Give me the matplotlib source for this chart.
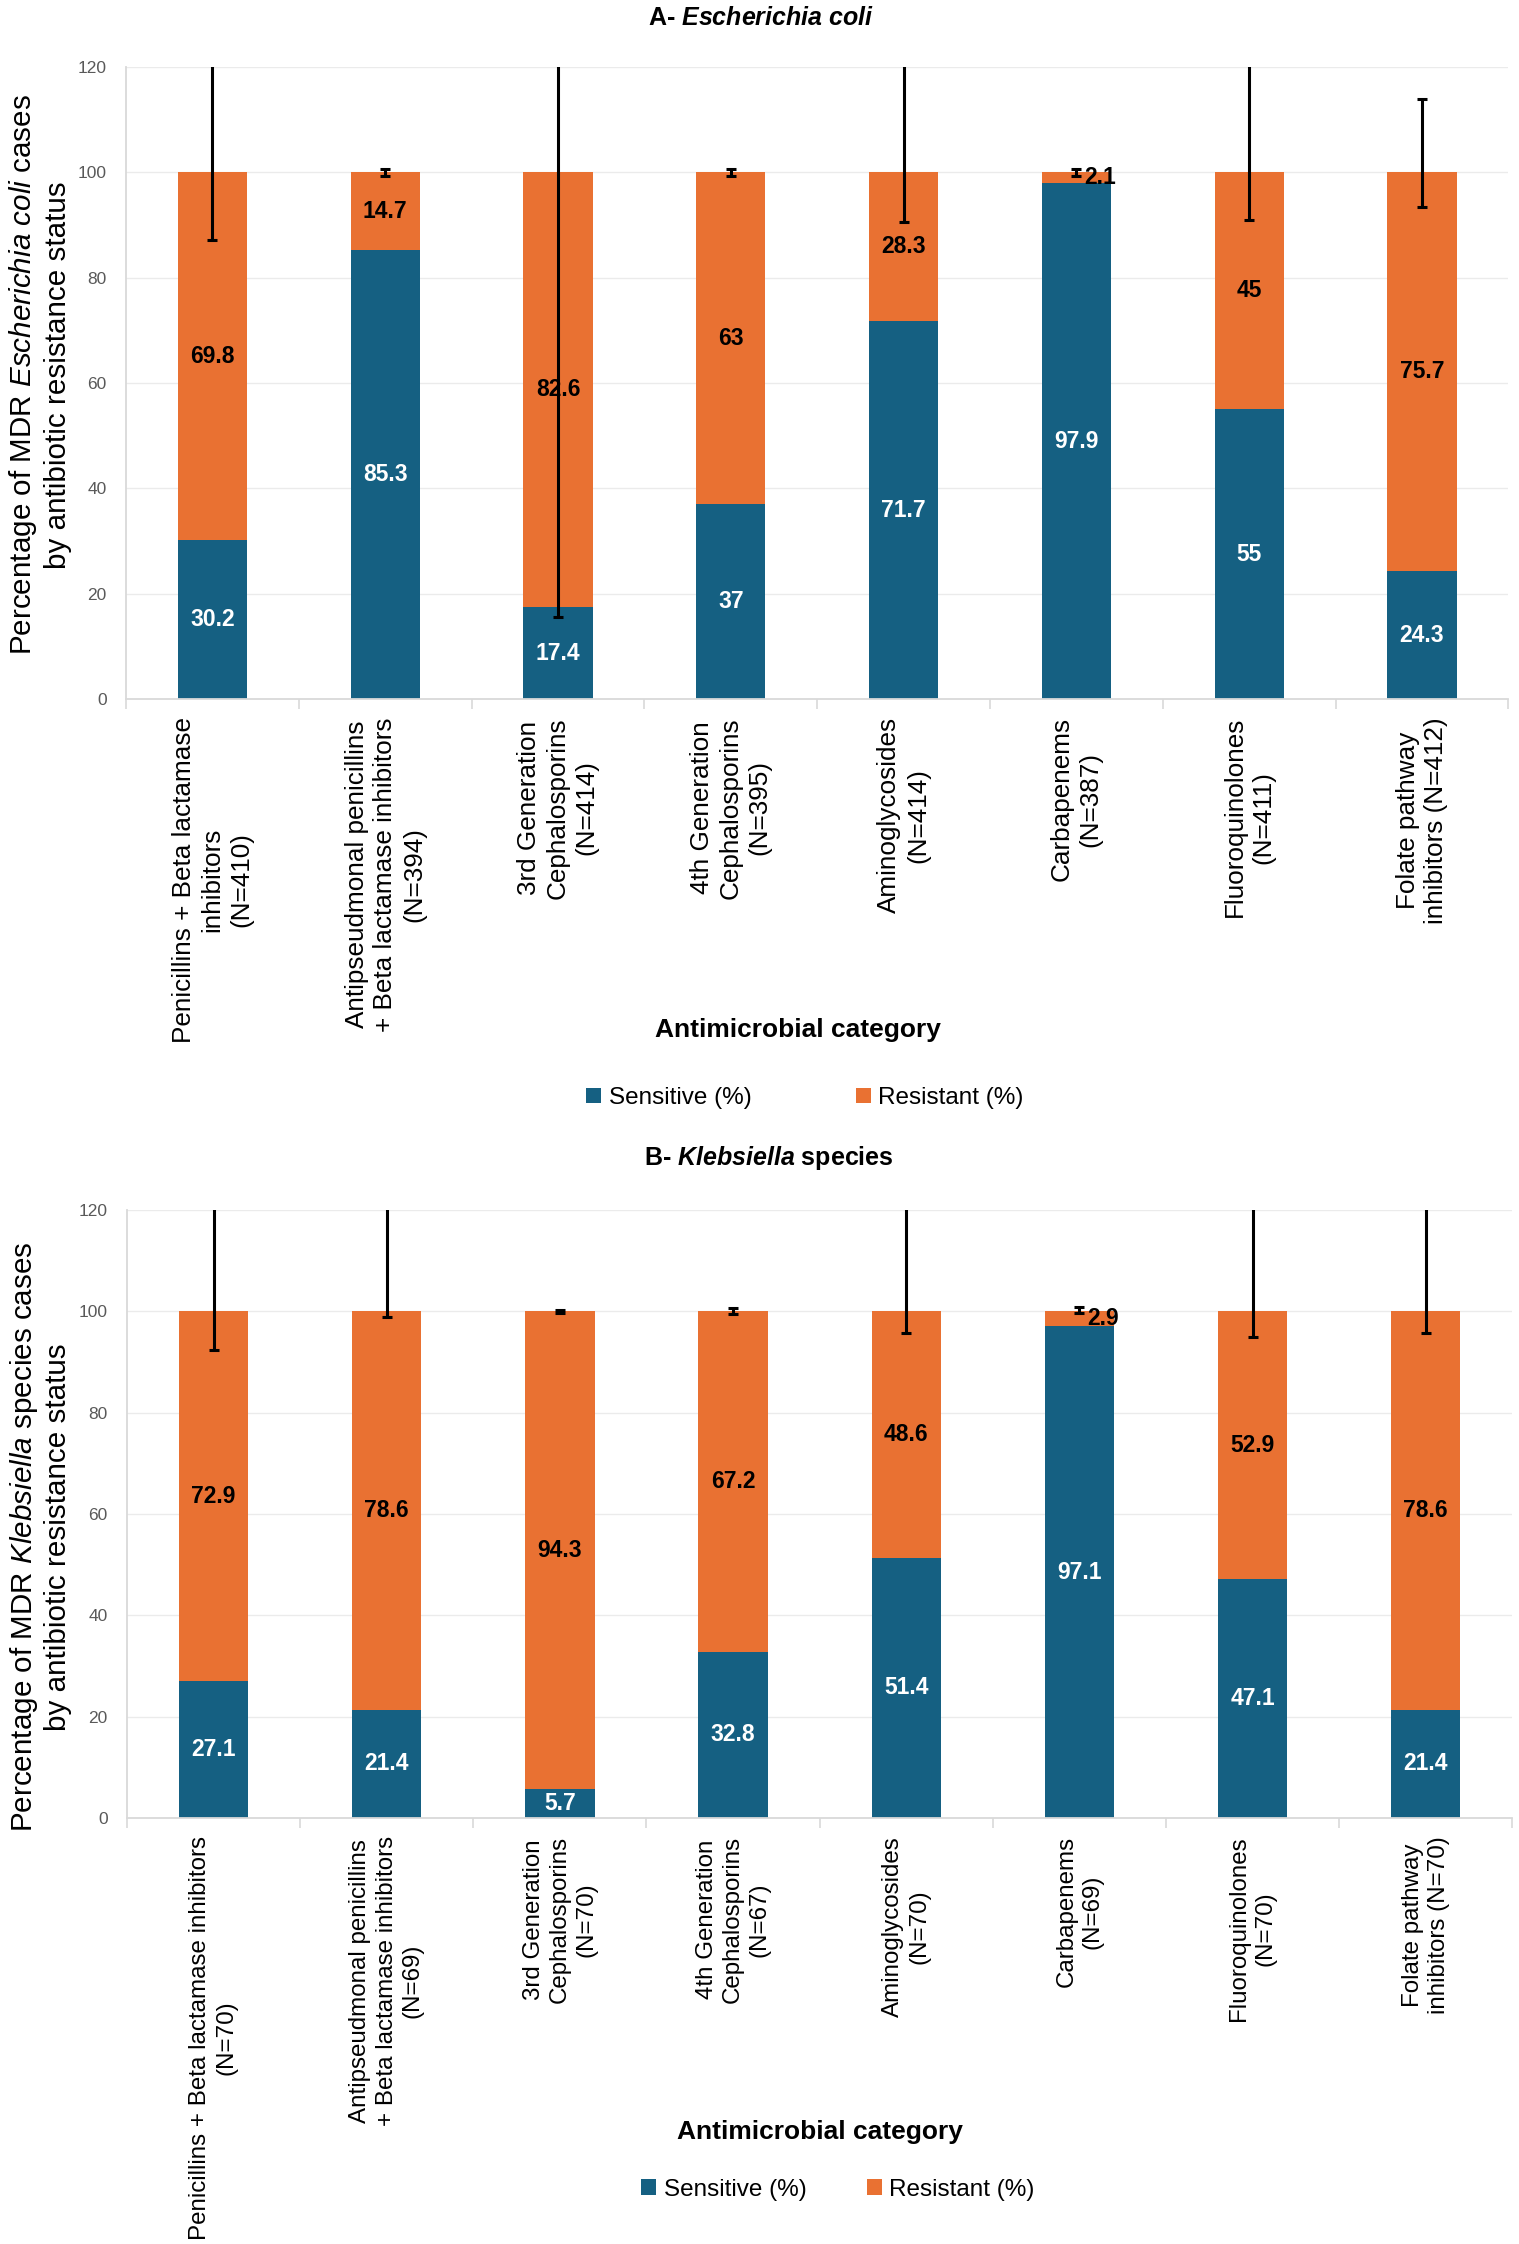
import matplotlib
matplotlib.use("Agg")
import matplotlib.pyplot as plt
import numpy as np

plt.rcParams['font.family'] = ['Liberation Sans', 'DejaVu Sans']
plt.rcParams['mathtext.fontset'] = 'custom'
plt.rcParams['mathtext.rm'] = 'Liberation Sans'
plt.rcParams['mathtext.it'] = 'Liberation Sans:italic'
plt.rcParams['mathtext.bf'] = 'Liberation Sans:bold'
plt.rcParams['mathtext.bfit'] = 'Liberation Sans:bold:italic'

BLUE = '#156082'
ORANGE = '#E97132'
GRID = '#EBEBEB'
AXIS = '#D9D9D9'

# --- data ---
labels_a = ["Penicillins + Beta lactamase\ninhibitors\n(N=410)",
            "Antipseudmonal penicillins\n+ Beta lactamase inhibitors\n(N=394)",
            "3rd Generation\nCephalosporins\n(N=414)",
            "4th Generation\nCephalosporins\n(N=395)",
            "Aminoglycosides\n(N=414)",
            "Carbapenems\n(N=387)",
            "Fluoroquinolones\n(N=411)",
            "Folate pathway\ninhibitors (N=412)"]
sens_a = [30.2, 85.3, 17.4, 37, 71.7, 97.9, 55, 24.3]
res_a = [69.8, 14.7, 82.6, 63, 28.3, 2.1, 45, 75.7]
err_lo_a = [12.8, 0.6, 84.4, 0.6, 9.4, 0.6, 9.1, 6.6]
err_hi_a = [25, 0.6, 84.4, 0.6, 25, 0.6, 25, 13.9]

labels_b = ["Penicillins + Beta lactamase inhibitors\n(N=70)",
            "Antipseudmonal penicillins\n+ Beta lactamase inhibitors\n(N=69)",
            "3rd Generation\nCephalosporins\n(N=70)",
            "4th Generation\nCephalosporins\n(N=67)",
            "Aminoglycosides\n(N=70)",
            "Carbapenems\n(N=69)",
            "Fluoroquinolones\n(N=70)",
            "Folate pathway\ninhibitors (N=70)"]
sens_b = [27.1, 21.4, 5.7, 32.8, 51.4, 97.1, 47.1, 21.4]
res_b = [72.9, 78.6, 94.3, 67.2, 48.6, 2.9, 52.9, 78.6]
err_lo_b = [7.6, 1.1, 0.3, 0.6, 4.3, 0.4, 5.1, 4.3]
err_hi_b = [25, 25, 0.3, 0.6, 25, 0.9, 25, 25]

fig = plt.figure(figsize=(15.19, 22.44), dpi=100)
ax_a = fig.add_axes([0.083, 0.6885, 0.910, 0.2816])
ax_b = fig.add_axes([0.0836, 0.1898, 0.912, 0.2710])


def draw_panel(ax, labels, sens, res, lo, hi, ylab, ylab_y, xt_size):
    x = np.arange(len(labels))
    s = np.array(sens)
    r = np.array(res)
    bs = ax.bar(x, s, 0.4, color=BLUE, zorder=2)
    br = ax.bar(x, r, 0.4, bottom=s, color=ORANGE, zorder=2)
    ax.errorbar(x, s + r, yerr=[lo, hi], fmt='none', ecolor='black',
                elinewidth=2.2, capsize=3.6, capthick=2.2, zorder=3)

    ax.bar_label(bs, labels=[f"{v:g}" for v in sens], label_type='center',
                 color='white', fontsize=16.5, fontweight='bold', zorder=4)
    anns = ax.bar_label(br, labels=[f"{v:g}" for v in res], label_type='center',
                        color='black', fontsize=16.5, fontweight='bold', zorder=4)
    # small carbapenem label sits beside the error bar
    anns[5].xyann = (17, 0)

    ax.set_xlim(-0.5, len(labels) - 0.5)
    ax.set_ylim(0, 120)
    ax.set_yticks(np.arange(0, 121, 20))
    ax.tick_params(axis='y', length=0, pad=14, labelsize=12.5, labelcolor='#595959')
    ax.set_xticks(x)
    ax.set_xticklabels(labels, rotation=90, ha='center', va='top',
                       multialignment='center', fontsize=xt_size, linespacing=1.25)
    ax.tick_params(axis='x', which='major', length=0, pad=13)
    ax.set_xticks(np.arange(-0.5, len(labels)), minor=True)
    ax.tick_params(axis='x', which='minor', length=7, width=1.2, color=AXIS)

    ax.grid(axis='y', color=GRID, linewidth=1)
    ax.set_axisbelow(True)
    for side in ['top', 'right']:
        ax.spines[side].set_visible(False)
    for side in ['left', 'bottom']:
        ax.spines[side].set_color(AXIS)
        ax.spines[side].set_linewidth(1.3)

    ax.text(-0.0626, ylab_y, ylab, transform=ax.transAxes, rotation=90,
            ha='center', va='center', multialignment='center', fontsize=21.3,
            linespacing=1.2)
    return bs, br


hs_a = draw_panel(ax_a, labels_a, sens_a, res_a, err_lo_a, err_hi_a,
                  "Percentage of MDR $\\mathit{Escherichia\\ coli}$ cases\nby antibiotic resistance status",
                  0.513, 18.8)
hs_b = draw_panel(ax_b, labels_b, sens_b, res_b, err_lo_b, err_hi_b,
                  "Percentage of MDR $\\mathit{Klebsiella}$ species cases\nby antibiotic resistance status",
                  0.462, 17.4)

fig.text(0.501, 0.992, "A- $\\mathbfit{Escherichia\\ coli}$", ha='center', va='center',
         fontsize=18, fontweight='bold')
fig.text(0.506, 0.484, "B- $\\mathbfit{Klebsiella}$ species", ha='center', va='center',
         fontsize=18, fontweight='bold')

fig.text(0.5253, 0.541, "Antimicrobial category", ha='center', va='center',
         fontsize=19, fontweight='bold')
fig.text(0.540, 0.0499, "Antimicrobial category", ha='center', va='center',
         fontsize=19, fontweight='bold')

fig.legend(hs_a, ['Sensitive (%)', 'Resistant (%)'], loc='center',
           bbox_to_anchor=(0.530, 0.5107), ncol=2, frameon=False, fontsize=17.5,
           handlelength=0.62, handleheight=0.62, handletextpad=0.3, columnspacing=4.3)
fig.legend(hs_b, ['Sensitive (%)', 'Resistant (%)'], loc='center',
           bbox_to_anchor=(0.5517, 0.0241), ncol=2, frameon=False, fontsize=17.5,
           handlelength=0.62, handleheight=0.62, handletextpad=0.3, columnspacing=2.5)

fig.savefig('out.png', dpi=100)
